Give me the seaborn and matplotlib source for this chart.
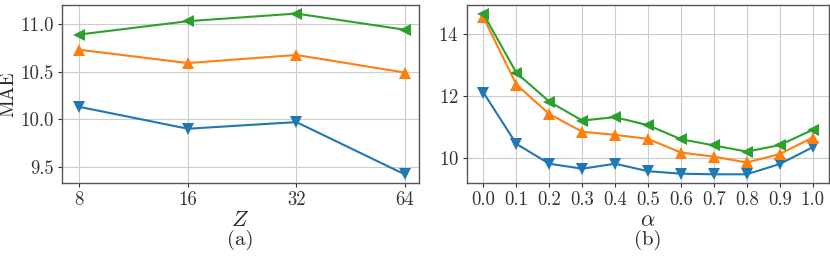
import numpy as np
import pandas as pd
import seaborn as sns
import matplotlib.pyplot as plt

# data
z_labels = ["8", "16", "32", "64"]
z_green = [10.89, 11.03, 11.11, 10.94]
z_orange = [10.73, 10.59, 10.675, 10.49]
z_blue = [10.13, 9.90, 9.97, 9.42]

alpha_vals = [0.0, 0.1, 0.2, 0.3, 0.4, 0.5, 0.6, 0.7, 0.8, 0.9, 1.0]
a_green = [14.64, 12.75, 11.82, 11.21, 11.32, 11.06, 10.61, 10.41, 10.21, 10.42, 10.91]
a_orange = [14.53, 12.37, 11.42, 10.85, 10.75, 10.62, 10.18, 10.05, 9.86, 10.13, 10.66]
a_blue = [12.11, 10.46, 9.82, 9.66, 9.82, 9.58, 9.50, 9.48, 9.48, 9.81, 10.35]

sns.set_style("whitegrid")
plt.rcParams["font.family"] = "serif"
plt.rcParams["font.serif"] = ["cmr10", "DejaVu Serif"]
plt.rcParams["mathtext.fontset"] = "cm"
plt.rcParams["axes.formatter.use_mathtext"] = True

colors = {"blue": "#1f77b4", "orange": "#ff7f0e", "green": "#2ca02c"}
markers = {"blue": "v", "orange": "^", "green": "<"}

fig = plt.figure(figsize=(8.3, 2.57), dpi=100)
ax1 = fig.add_axes([62 / 830, 74 / 257, 357 / 830, 178 / 257])
ax2 = fig.add_axes([467 / 830, 74 / 257, 362 / 830, 178 / 257])

df_z = pd.DataFrame({"pos": list(range(len(z_labels))) * 3,
                     "MAE": z_blue + z_orange + z_green,
                     "series": ["blue"] * 4 + ["orange"] * 4 + ["green"] * 4})
df_a = pd.DataFrame({"alpha": alpha_vals * 3,
                     "MAE": a_blue + a_orange + a_green,
                     "series": ["blue"] * 11 + ["orange"] * 11 + ["green"] * 11})

for ax, df, x in [(ax1, df_z, "pos"), (ax2, df_a, "alpha")]:
    for name in ["blue", "orange", "green"]:
        sub = df[df["series"] == name]
        sns.lineplot(data=sub, x=x, y="MAE", ax=ax, color=colors[name],
                     marker=markers[name], markersize=9, markeredgewidth=0,
                     linewidth=1.5)
    ax.grid(True, color="#cccccc", linewidth=0.8)
    for s in ax.spines.values():
        s.set_color("#555555")
        s.set_linewidth(1.0)
    ax.tick_params(labelsize=13.5, colors="#333333", length=3, pad=3,
                   left=True, bottom=True)

ax1.set_xticks(range(len(z_labels)))
ax1.set_xticklabels(z_labels)
ax1.set_ylim(9.33, 11.2)
ax1.set_yticks([9.5, 10.0, 10.5, 11.0])
ax1.set_yticklabels(["9.5", "10.0", "10.5", "11.0"])
ax1.set_xlim(-0.16, 3.13)
ax1.set_ylabel("MAE", fontsize=14, labelpad=2)
ax1.set_xlabel("$Z$", fontsize=16, labelpad=1)

ax2.set_xticks(alpha_vals)
ax2.set_xticklabels([f"{a:.1f}" for a in alpha_vals])
ax2.set_ylim(9.2, 14.93)
ax2.set_yticks([10, 12, 14])
ax2.set_ylabel("")
ax2.set_xlabel(r"$\alpha$", fontsize=16, labelpad=1)

fig.text((62 + 419) / 2 / 830, 0.045, "(a)", ha="center", fontsize=15)
fig.text((467 + 829) / 2 / 830, 0.045, "(b)", ha="center", fontsize=15)

fig.savefig("out.png", dpi=100)
